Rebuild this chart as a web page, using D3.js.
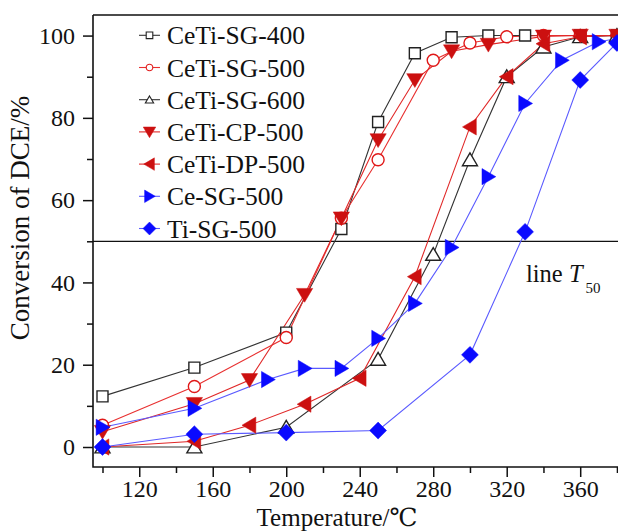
<!DOCTYPE html>
<html><head><meta charset="utf-8">
<script src="https://cdn.jsdelivr.net/npm/d3@7"></script>
<style>body{margin:0;background:#fff}svg{display:block}svg text{font-family:"Times New Roman","Liberation Serif","DejaVu Serif",serif !important}</style>
</head><body><svg id="c" width="618" height="532"></svg>
<script>
// ---- data ----
const seriesNames = ["CeTi-SG-400","CeTi-SG-500","CeTi-SG-600","CeTi-CP-500","CeTi-DP-500","Ce-SG-500","Ti-SG-500"];
const sg400T = [100,150,200,230,250,270,290,310,330,360,380];
const sg400V = [12.3,19.3,27.8,53,79,95.7,99.6,100,100,100,100];
const sg500T = [100,150,200,230,250,280,300,320,340,360,380];
const sg500V = [5.3,14.7,26.6,55.6,69.8,94,98.2,99.7,100,100,100];
const sg600T = [100,150,200,250,280,300,320,340,360,380];
const sg600V = [0,0,4.8,21.3,46.8,69.8,90,97.2,99.7,100];
const cp500T = [100,150,180,210,230,250,270,290,310,340,360,380];
const cp500V = [3.7,10.5,16.3,37,55.6,74.6,89.2,96.2,97.8,99.8,100,100];
const dp500T = [100,150,180,210,240,270,300,320,340,360,380];
const dp500V = [0,1.4,5.3,10.4,16.7,41.4,77.8,90,98,99.7,100];
const ceSgT = [100,150,190,210,230,250,270,290,310,330,350,370,390];
const ceSgV = [4.8,9.4,16.4,19.1,19.1,26.4,34.9,48.5,65.7,83.5,94,98.5,100];
const tiSgT = [100,150,200,250,300,330,360,380];
const tiSgV = [0,3.1,3.5,4,22.4,52.3,89.2,98.2];
const xTicks = [120,160,200,240,280,320,360];
const yTicks = [0,20,40,60,80,100];
const t50 = 50;

const allT = [sg400T,sg500T,sg600T,cp500T,dp500T,ceSgT,tiSgT];
const allV = [sg400V,sg500V,sg600V,cp500V,dp500V,ceSgV,tiSgV];
const lineColors = ["#333","#e83030","#333","#e02828","#e02828","#5a5aff","#5a5aff"];
const markColors = ["#222","#e01818","#222","#cc1010","#cc1010","#0a0aff","#0a0aff"];
const shapes = ["square","circle","up","down","left","right","diamond"];
const filled = [false,false,false,true,true,true,true];

const svg = d3.select("#c");
const L=93, T=15, B=467;
const x = d3.scaleLinear().domain([94.83,400]).range([L,653.7]);
const y = d3.scaleLinear().domain([-4.86,105]).range([B,T]);

function shapePath(s, r){
  const p = d3.path();
  if(s==="square"){ p.rect(-r,-r,2*r,2*r); }
  else if(s==="circle"){ p.arc(0,0,r,0,2*Math.PI); p.closePath(); }
  else if(s==="diamond"){ const d=r*1.3; p.moveTo(0,-d);p.lineTo(d,0);p.lineTo(0,d);p.lineTo(-d,0);p.closePath(); }
  else {
    const h=r*1.15, w=r*1.25;
    let pts;
    if(s==="up") pts=[[0,-h],[w,h*0.85],[-w,h*0.85]];
    if(s==="down") pts=[[0,h],[w,-h*0.85],[-w,-h*0.85]];
    if(s==="right") pts=[[h,0],[-h*0.85,-w],[-h*0.85,w]];
    if(s==="left") pts=[[-h,0],[h*0.85,-w],[h*0.85,w]];
    p.moveTo(pts[0][0],pts[0][1]);p.lineTo(pts[1][0],pts[1][1]);p.lineTo(pts[2][0],pts[2][1]);p.closePath();
  }
  return p.toString();
}
const markR = [5.5,6,6,6.5,6.5,6.5,6.5];

svg.append("clipPath").attr("id","clip").append("rect").attr("x",L).attr("y",T).attr("width",700).attr("height",B-T);

// T50 line
svg.append("line").attr("x1",L).attr("x2",618).attr("y1",y(t50)).attr("y2",y(t50)).attr("stroke","#111").attr("stroke-width",1.3);

const g = svg.append("g").attr("clip-path","url(#clip)");
const lineGen = d3.line();
allT.forEach((ts,i)=>{
  const pts = ts.map((t,j)=>[x(t),y(allV[i][j])]);
  g.append("path").attr("d",lineGen(pts)).attr("fill","none").attr("stroke",lineColors[i]).attr("stroke-width",1.1);
});
allT.forEach((ts,i)=>{
  ts.forEach((t,j)=>{
    g.append("path").attr("d",shapePath(shapes[i],markR[i]))
      .attr("transform",`translate(${x(t)},${y(allV[i][j])})`)
      .attr("fill",filled[i]?markColors[i]:"#fff")
      .attr("stroke",markColors[i]).attr("stroke-width",filled[i]?0.5:1.4);
  });
});

// axes
const xAxis = d3.axisBottom(x).tickValues(xTicks).tickSize(10).tickSizeOuter(0).tickFormat(d3.format("d"));
const xg = svg.append("g").attr("transform",`translate(0,${B})`).call(xAxis);
xg.select(".domain").remove();
xg.selectAll("line").attr("stroke","#111").attr("stroke-width",1.5);
xg.selectAll("text").attr("font-size",24).attr("fill","#111").attr("y",13).attr("dy","0.71em");
const xMinor = d3.axisBottom(x).tickValues([100,140,180,220,260,300,340,380]).tickSize(6).tickFormat("");
const xm = svg.append("g").attr("transform",`translate(0,${B})`).call(xMinor);
xm.select(".domain").remove(); xm.selectAll("line").attr("stroke","#111").attr("stroke-width",1.5);

const yAxis = d3.axisLeft(y).tickValues(yTicks).tickSize(10).tickFormat(d3.format("d"));
const yg = svg.append("g").attr("transform",`translate(${L},0)`).call(yAxis);
yg.select(".domain").remove();
yg.selectAll("line").attr("stroke","#111").attr("stroke-width",1.5);
yg.selectAll("text").attr("font-size",24).attr("fill","#111").attr("x",-18);
const yMinor = d3.axisLeft(y).tickValues([10,30,50,70,90]).tickSize(6).tickFormat("");
const ym = svg.append("g").attr("transform",`translate(${L},0)`).call(yMinor);
ym.select(".domain").remove(); ym.selectAll("line").attr("stroke","#111").attr("stroke-width",1.5);

// frame
svg.append("path").attr("d",`M${L},${T}V${B}H620M${L},${T}H620`).attr("fill","none").attr("stroke","#111").attr("stroke-width",1.6);

// titles
svg.append("text").attr("transform","translate(29,218) rotate(-90)").attr("text-anchor","middle")
  .attr("font-size",27).attr("fill","#111").text("Conversion of DCE/%");
svg.append("text").attr("x",337).attr("y",526).attr("text-anchor","middle").attr("font-size",25).attr("fill","#111").text("Temperature/℃");

// line T50 label
const lt = svg.append("text").attr("x",526).attr("y",282).attr("font-size",24.5).attr("fill","#111");
lt.append("tspan").text("line ");
lt.append("tspan").attr("font-style","italic").text("T");
lt.append("tspan").attr("font-size",15).attr("dy",11).attr("dx",3).text("50");

// legend
const lg = svg.append("g");
seriesNames.forEach((n,i)=>{
  const cy = 35.3 + i*32.2;
  lg.append("line").attr("x1",139).attr("x2",160).attr("y1",cy).attr("y2",cy).attr("stroke",lineColors[i]).attr("stroke-width",1.1);
  const r = filled[i]?5:3.3;
  lg.append("path").attr("d",shapePath(shapes[i],r)).attr("transform",`translate(149.5,${cy})`)
    .attr("fill",filled[i]?markColors[i]:"#fff").attr("stroke",markColors[i]).attr("stroke-width",filled[i]?0.5:1.1);
  lg.append("text").attr("x",167).attr("y",cy+9).attr("font-size",25.5).attr("fill","#111").text(n);
});
</script></body></html>
